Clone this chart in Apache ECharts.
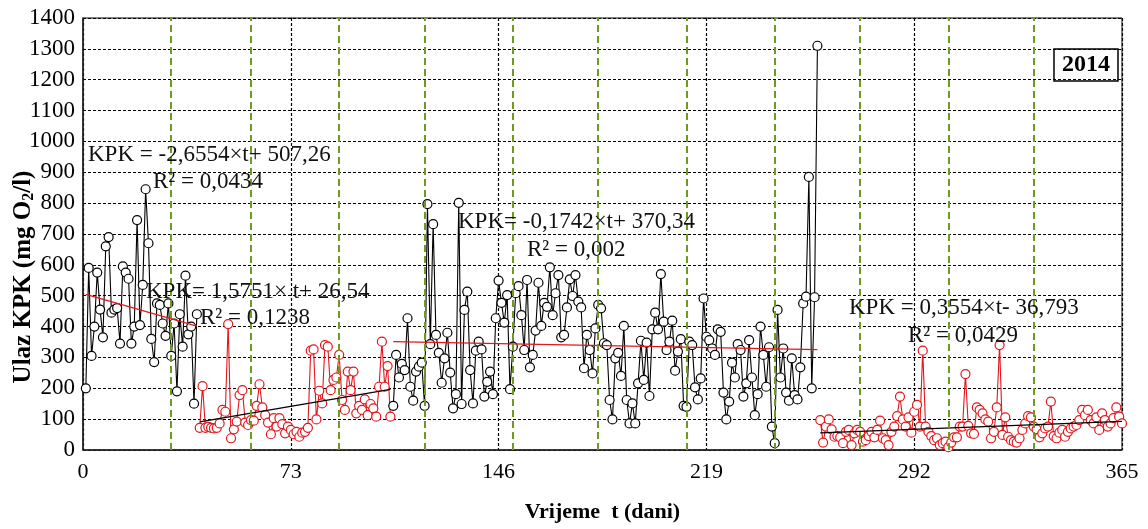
<!DOCTYPE html>
<html>
<head>
<meta charset="utf-8">
<script src="https://cdn.jsdelivr.net/npm/echarts@6/dist/echarts.min.js"></script>
<style>html,body{margin:0;padding:0;background:#fff}#c{width:1148px;height:529px}</style>
</head>
<body>
<div id="c"></div>
<script>
// ---- data ----
const xTicks = [0, 73, 146, 219, 292, 365];
const monthBounds = [31, 59, 90, 120, 151, 181, 212, 243, 273, 304, 334];

const seg1Start = 1;
const seg1 = [200, 590, 305, 400, 575, 455, 365, 660, 690, 445,
  455, 460, 345, 595, 575, 555, 345, 400, 745, 405,
  535, 845, 670, 360, 285, 475, 470, 410, 370, 475,
  305, 410, 190, 440, 335, 565, 375, 400, 150, 440];

const seg2Start = 41;
const seg2 = [72, 207, 72, 75, 72, 70, 72, 86, 130, 124, 408,
  38, 67, 92, 178, 194, 89, 81, 97, 95, 143, 213, 138, 113, 89, 51, 103, 76, 103, 84, 54, 76, 65, 51, 59, 43, 56, 59, 72,
  322, 326, 99, 192, 151, 340, 335, 194, 227, 235, 308,
  162, 130, 254, 194, 254, 119, 143, 130, 164, 113, 149, 135, 108, 205,
  351, 205, 272, 108];

const seg3Start = 109;
const seg3 = [143, 308, 235, 279, 259, 427, 205, 160, 254, 270, 283, 143, 797, 343, 732, 373, 315, 218, 297, 380,
  251, 135, 181, 801, 149, 454, 513, 259, 151, 322, 351, 326, 173, 221, 254, 181, 427, 549, 477, 413, 502, 197, 335,
  508, 531, 437, 324, 551, 268, 308, 387, 542, 402, 477, 464, 592, 437, 508, 567, 365, 373, 462, 553,
  499, 567, 481, 462, 265, 373, 324, 248, 394, 470, 459, 346, 340, 162, 99, 297, 315, 240, 402, 162,
  86, 151, 86, 216, 354, 227, 348, 175, 391, 445, 391, 570,
  416, 324, 351, 419, 257, 319, 359, 143, 140, 351, 340, 203, 164, 232, 491, 367, 356, 329, 308, 391,
  383, 186, 99, 157, 283, 235, 343, 324, 173, 216, 356, 235, 113, 181, 400, 308, 205, 333, 76, 22,
  454, 235, 329, 186, 160, 297, 178, 164, 268, 475, 497, 885, 200, 495, 1310];

const seg4Start = 259;
const seg4 = [97, 24, 76, 99, 67, 43, 45, 41, 22, 59, 65, 16, 54, 65, 59, 27, 32, 45, 59, 41,
  65, 95, 38, 32, 16, 59, 76, 110, 173, 99, 76, 106, 56, 124, 146, 76,
  322,
  76, 59, 45, 32, 38, 16, 22, 27, 9, 24, 41, 41, 76, 76,
  246,
  78, 54, 52, 138, 130, 119, 99, 92, 38, 59, 138,
  340,
  49, 106, 43, 32, 27, 24, 38, 65, 86, 110, 106, 76, 67, 41, 54, 70, 76,
  157,
  45, 38, 56, 65, 43, 59, 70, 76, 81, 97, 130, 113, 130, 97, 86, 106, 65, 119, 97, 76, 86, 103, 138, 108, 86];

const trendSlopes = [-2.6554, 1.5751, -0.1742, 0.3554];
const trendIntercepts = [507.26, 26.54, 370.34, -36.793];

const eqTexts = ['KPK = -2,6554×t+ 507,26', 'KPK= 1,5751× t+ 26,54', 'KPK= -0,1742×t+ 370,34', 'KPK = 0,3554×t- 36,793'];
const r2Texts = ['R² = 0,0434', 'R² = 0,1238', 'R² = 0,002', 'R² = 0,0429'];
const yTitle = 'Ulaz KPK (mg O{sub|2}/l)';
const xTitle = 'Vrijeme  t (dani)';

// ---- build ----
const BLACK = '#000000', RED = '#e3161d', GREEN = '#6e9a1e';
const FONT = '"Liberation Serif", "Times New Roman", serif';

function pairs(start, arr) { return arr.map((v, i) => [start + i, v]); }
function trend(k, start, len) {
  const a = start, b = start + len - 1;
  return [[a, trendSlopes[k] * a + trendIntercepts[k]], [b, trendSlopes[k] * b + trendIntercepts[k]]];
}
const segs = [[seg1Start, seg1, BLACK], [seg2Start, seg2, RED], [seg3Start, seg3, BLACK], [seg4Start, seg4, RED]];
const trendColors = [RED, BLACK, RED, BLACK];

const series = [];
segs.forEach((s, k) => {
  series.push({
    type: 'line', data: pairs(s[0], s[1]), symbol: 'circle', symbolSize: 9, showAllSymbol: true,
    lineStyle: { color: s[2], width: 1.1 },
    itemStyle: { color: '#fff', borderColor: s[2], borderWidth: 1.2 },
    z: 3, animation: false
  });
});
segs.forEach((s, k) => {
  series.push({
    type: 'line', data: trend(k, s[0], s[1].length), symbol: 'none',
    lineStyle: { color: trendColors[k], width: 1.3 }, z: 4, animation: false
  });
});
// month boundary lines
series.push({
  type: 'line', data: [], animation: false,
  markLine: {
    silent: true, symbol: ['none', 'none'], label: { show: false }, animation: false,
    lineStyle: { color: GREEN, type: [7, 4], width: 2 },
    data: monthBounds.map(m => ({ xAxis: m }))
  }, z: 2
});

const chart = echarts.init(document.getElementById('c'));
const eqPos = [[88, 155, 153, 182], [146, 292, 200, 318], [458, 222, 527, 250], [849, 308, 908, 336]];
const graphics = [];
eqTexts.forEach((t, k) => {
  graphics.push({ type: 'text', x: eqPos[k][0], y: eqPos[k][1], z: 10,
    style: { text: t, font: '23px ' + FONT, fill: '#111', verticalAlign: 'middle' } });
  graphics.push({ type: 'text', x: eqPos[k][2], y: eqPos[k][3], z: 10,
    style: { text: r2Texts[k], font: '23px ' + FONT, fill: '#111', verticalAlign: 'middle' } });
});
graphics.push({
  type: 'text', x: 24, y: 277, rotation: Math.PI / 2, z: 10,
  style: {
    text: yTitle, fontFamily: FONT, fontSize: 25, fontWeight: 'bold', fill: '#000',
    align: 'center', verticalAlign: 'middle',
    rich: { sub: { fontFamily: FONT, fontSize: 16, fontWeight: 'bold', fill: '#000', padding: [10, 0, 0, 0] } }
  }
});

chart.setOption({
  backgroundColor: '#fff',
  animation: false,
  title: {
    text: '2014', right: 30, top: 49, padding: [4, 8], borderColor: '#000', borderWidth: 1.5,
    textStyle: { fontFamily: FONT, fontWeight: 'bold', fontSize: 24, color: '#000' }
  },
  grid: { left: 83, right: 26, top: 18, bottom: 79, show: true, borderColor: '#000', borderWidth: 1,
    backgroundColor: 'transparent', containLabel: false, outerBoundsMode: 'none' },
  xAxis: {
    type: 'value', min: 0, max: 365, interval: 73,
    axisLine: { show: true, lineStyle: { color: '#222', width: 1.5 } },
    axisTick: { show: false },
    axisLabel: { fontFamily: FONT, fontSize: 22, color: '#000', margin: 11, formatter: v => String(v) },
    splitLine: { show: true, lineStyle: { color: '#000', type: [3, 2], width: 1.2 } },
    name: xTitle, nameLocation: 'middle', nameGap: 51,
    nameTextStyle: { fontFamily: FONT, fontSize: 22, fontWeight: 'bold', color: '#000' }
  },
  yAxis: {
    type: 'value', min: 0, max: 1400, interval: 100,
    axisLine: { show: true, lineStyle: { color: '#222', width: 1.5 } },
    axisTick: { show: false },
    axisLabel: { fontFamily: FONT, fontSize: 23, color: '#000', margin: 8, formatter: v => String(v) },
    splitLine: { show: true, lineStyle: { color: '#000', type: [3, 2], width: 1.2 } }
  },
  graphic: graphics,
  series: series
});
</script>
</body>
</html>
